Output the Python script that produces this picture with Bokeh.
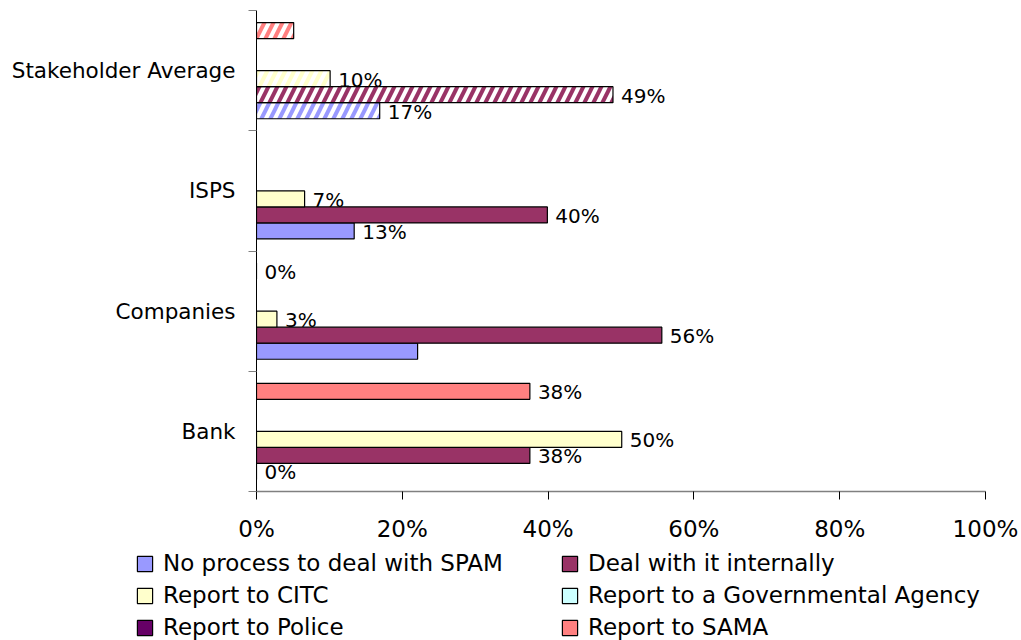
from bokeh.plotting import figure
from bokeh.layouts import column
from bokeh.models import (Range1d, FixedTicker, PrintfTickFormatter, Legend,
                          LegendItem, ColumnDataSource)
from bokeh.core.properties import value
from bokeh.embed import file_html
from bokeh.resources import INLINE

nan = float("nan")

categories = ["Bank", "Companies", "ISPS", "Stakeholder Average"]
series_names = ["No process to deal with SPAM", "Deal with it internally",
                "Report to CITC", "Report to a Governmental Agency",
                "Report to Police", "Report to SAMA"]
series_colors = ["#9999FF", "#993366", "#FFFFCC", "#CCFFFF", "#660066", "#FF8080"]

# percent values per series, in category order
no_process = [0.0, 22.1, 13.4, 16.9]
deal_internally = [37.5, 55.6, 39.9, 48.9]
report_citc = [50.1, 2.8, 6.6, 10.1]
report_gov = [nan, nan, nan, nan]
report_police = [nan, nan, nan, nan]
report_sama = [37.5, 0.0, nan, 5.1]
series_values = [no_process, deal_internally, report_citc, report_gov,
                 report_police, report_sama]

# which values carry a data label
label_no_process = [True, False, True, True]
label_deal = [True, True, True, True]
label_citc = [True, True, True, True]
label_gov = [False, False, False, False]
label_police = [False, False, False, False]
label_sama = [True, True, False, False]
series_labels = [label_no_process, label_deal, label_citc, label_gov,
                 label_police, label_sama]

hatched = [False, False, False, True]   # "Stakeholder Average" drawn hatched
x_ticks = [0, 20, 40, 60, 80, 100]

FONT = value("DejaVu Sans")
GAP = 0.1
SLOT = 0.8 / 6

p = figure(width=1021, height=545, x_range=Range1d(0, 100), y_range=Range1d(0, 4),
           output_backend="svg", toolbar_location=None,
           min_border_left=256, min_border_right=36, min_border_top=10,
           min_border_bottom=54)
p.xgrid.visible = False
p.ygrid.visible = False
p.outline_line_color = None
p.background_fill_color = "white"
p.border_fill_color = "white"

# x axis
p.xaxis.ticker = FixedTicker(ticks=x_ticks)
p.xaxis.formatter = PrintfTickFormatter(format="%d%%")
p.xaxis.major_tick_out = 8
p.xaxis.major_tick_in = 0
p.xaxis.minor_tick_out = 0
p.xaxis.minor_tick_in = 0
p.xaxis.axis_line_color = "#808080"
p.xaxis.axis_line_width = 1.5
p.xaxis.major_tick_line_color = "black"
p.xaxis.major_label_text_font = "DejaVu Sans"
p.xaxis.major_label_text_font_size = "23px"
p.xaxis.major_label_text_color = "black"
p.xaxis.major_label_standoff = 16

# y axis (categories at band centres, tick marks at band boundaries)
centers = [i + 0.5 for i in range(len(categories))]
p.yaxis.ticker = FixedTicker(ticks=centers, minor_ticks=[0, 1, 2, 3, 4])
p.yaxis.major_label_overrides = {c: name for c, name in zip(centers, categories)}
p.yaxis.major_tick_out = 0
p.yaxis.major_tick_in = 0
p.yaxis.minor_tick_out = 8
p.yaxis.minor_tick_in = 0
p.yaxis.minor_tick_line_color = "#808080"
p.yaxis.axis_line_color = "black"
p.yaxis.major_label_text_font = "DejaVu Sans"
p.yaxis.major_label_text_font_size = "21.5px"
p.yaxis.major_label_text_color = "black"
p.yaxis.major_label_standoff = 13

# data labels first (bars are drawn over them)
for j, (vals, shows) in enumerate(zip(series_values, series_labels)):
    xs, ys, ts = [], [], []
    for i, (v, s) in enumerate(zip(vals, shows)):
        if s and v == v:
            xs.append(v)
            ys.append(i + GAP + (j + 0.5) * SLOT)
            ts.append(f"{v:.0f}%")
    src = ColumnDataSource(dict(x=xs, y=ys, t=ts))
    p.text(x="x", y="y", text="t", source=src, x_offset=8, y_offset=1,
           text_baseline="middle", text_align="left", text_font=FONT,
           text_font_size="20px", text_color="black")

for j, (vals, color) in enumerate(zip(series_values, series_colors)):
    ys = [i + GAP + (j + 0.5) * SLOT for i in range(len(categories))]
    fills = ["white" if h else color for h in hatched]
    hatches = ["/" if h else " " for h in hatched]
    src = ColumnDataSource(dict(y=ys, right=vals, fill=fills, hatch=hatches))
    p.hbar(y="y", left=0, right="right", height=SLOT, source=src,
           fill_color="fill", line_color="black", line_width=1.2,
           hatch_pattern="hatch", hatch_color=color, hatch_weight=4,
           hatch_scale=18)

# legend panel below the chart
lf = figure(width=1021, height=95, x_range=Range1d(0, 1), y_range=Range1d(0, 1),
            output_backend="svg", toolbar_location=None, min_border=0)
lf.axis.visible = False
lf.xgrid.visible = False
lf.ygrid.visible = False
lf.outline_line_color = None
lf.border_fill_color = "white"
if "frame_align" in lf.properties():
    lf.frame_align = False
    p.frame_align = False

items = []
for name, color in zip(series_names, series_colors):
    r = lf.hbar(y=[nan], right=[nan], left=0, height=1, fill_color=color,
                line_color="black", line_width=1.2)
    items.append(LegendItem(label=name, renderers=[r]))


def make_legend(its, x):
    return Legend(items=its, location=(x, 0), orientation="vertical",
                  border_line_color=None, background_fill_alpha=0,
                  padding=0, margin=0, glyph_width=19, glyph_height=19,
                  label_standoff=9, spacing=6, label_height=21,
                  label_text_font="DejaVu Sans", label_text_font_size="23px",
                  label_text_color="black")


lf.add_layout(make_legend([items[0], items[2], items[4]], 135))
lf.add_layout(make_legend([items[1], items[3], items[5]], 560))

layout = column(p, lf, spacing=0)
open("out.html", "w").write(file_html(layout, INLINE))
